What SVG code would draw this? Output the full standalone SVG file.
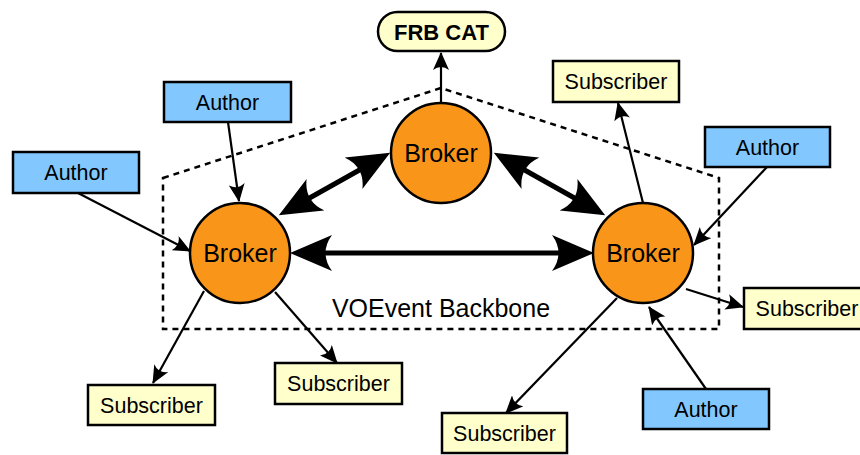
<svg xmlns="http://www.w3.org/2000/svg" width="860" height="455" viewBox="0 0 860 455">
<defs>
<style>
.author rect{fill:#82c8ff;stroke:#000;stroke-width:2.5}
.sub rect{fill:#ffffcc;stroke:#000;stroke-width:2.5}
.broker circle{fill:#f9961a;stroke:#000;stroke-width:2.5}
text{font-family:"Liberation Sans",Arial,sans-serif;fill:#000;text-anchor:middle}
.author text,.sub text{font-size:21.5px}
.broker text{font-size:25px}
.thin{stroke:#000;stroke-width:2.2;fill:none;marker-end:url(#ah)}
.thick{stroke:#000;stroke-width:5;fill:none;marker-start:url(#bh);marker-end:url(#bh)}
</style>
<marker id="ah" markerUnits="userSpaceOnUse" viewBox="0 0 18 16" markerWidth="18" markerHeight="16" refX="17" refY="8" orient="auto">
<path d="M0,0 L18,8 L0,16 Q6,8 0,0 Z" fill="#000"/>
</marker>
<marker id="bh" markerUnits="userSpaceOnUse" viewBox="0 0 42 36" markerWidth="42" markerHeight="36" refX="20" refY="18" orient="auto-start-reverse">
<path d="M0,0 L42,18 L0,36 Q13,18 0,0 Z" fill="#000"/>
</marker>
</defs>
<path d="M163,178 L441,88 L719,178 L719,329 L163,329 Z" fill="none" stroke="#000" stroke-width="2.5" stroke-dasharray="6,5"/>
<text x="441" y="317" style="font-size:25px">VOEvent Backbone</text>
<g id="connectors">
<line class="thin" x1="441" y1="103" x2="441" y2="53"/>
<line class="thin" x1="228" y1="122" x2="239" y2="201"/>
<line class="thin" x1="78" y1="193" x2="190" y2="251"/>
<line class="thin" x1="204" y1="291" x2="153" y2="383"/>
<line class="thin" x1="275" y1="292" x2="337" y2="363"/>
<line class="thin" x1="643" y1="203" x2="618" y2="103"/>
<line class="thin" x1="767" y1="167" x2="694" y2="245"/>
<line class="thin" x1="686" y1="289" x2="743" y2="307"/>
<line class="thin" x1="706" y1="389" x2="649" y2="307"/>
<line class="thin" x1="617" y1="298" x2="506" y2="413"/>
<line class="thick" x1="312" y1="253" x2="572" y2="253"/>
<line class="thick" x1="298" y1="204.5" x2="371" y2="163.5"/>
<line class="thick" x1="513" y1="163.5" x2="586" y2="204.5"/>
</g>
<g id="frbcat">
<rect x="378" y="12" width="127" height="39" rx="19.5" fill="#ffffcc" stroke="#000" stroke-width="2.5"/>
<text x="441.5" y="39.5" style="font-size:22px;font-weight:bold">FRB CAT</text>
</g>
<g id="broker-top" class="broker"><circle cx="441" cy="153" r="50"/><text x="441" y="162">Broker</text></g>
<g id="broker-left" class="broker"><circle cx="240" cy="253" r="50"/><text x="240" y="262">Broker</text></g>
<g id="broker-right" class="broker"><circle cx="643" cy="253" r="50"/><text x="643" y="262">Broker</text></g>
<g id="author1" class="author"><rect x="164" y="82" width="127" height="40"/><text x="227.5" y="109.5">Author</text></g>
<g id="author2" class="author"><rect x="13" y="152" width="126" height="41"/><text x="76" y="180">Author</text></g>
<g id="author3" class="author"><rect x="705" y="127" width="125" height="40"/><text x="767.5" y="154.5">Author</text></g>
<g id="author4" class="author"><rect x="643" y="389" width="126" height="40"/><text x="706" y="416.5">Author</text></g>
<g id="sub1" class="sub"><rect x="553" y="61" width="126" height="41"/><text x="616" y="89">Subscriber</text></g>
<g id="sub2" class="sub"><rect x="744" y="288" width="120" height="41"/><text x="807" y="316">Subscriber</text></g>
<g id="sub3" class="sub"><rect x="88" y="385" width="127" height="40"/><text x="151.5" y="412.5">Subscriber</text></g>
<g id="sub4" class="sub"><rect x="275" y="363" width="127" height="41"/><text x="338.5" y="391">Subscriber</text></g>
<g id="sub5" class="sub"><rect x="442" y="413" width="125" height="40"/><text x="504.5" y="440.5">Subscriber</text></g>
</svg>
